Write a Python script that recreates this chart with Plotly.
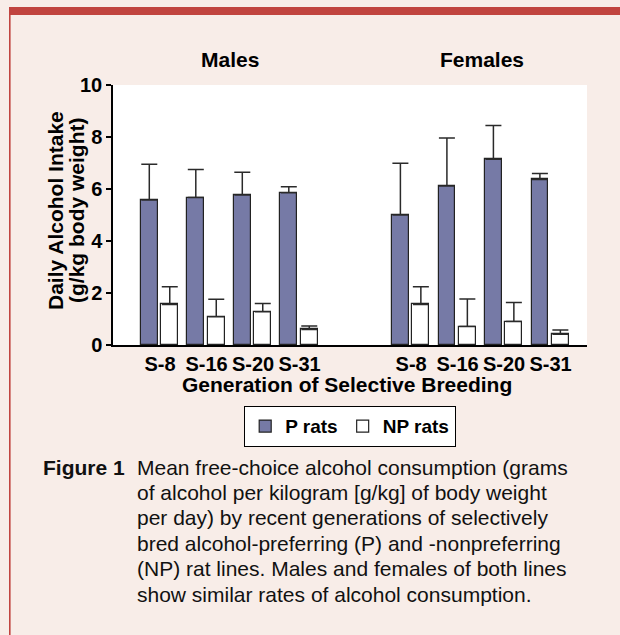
import plotly.graph_objects as go

# ---- data ----
generations = ["S-8", "S-16", "S-20", "S-31"]
male_p_mean = [5.58, 5.67, 5.77, 5.86]
male_p_err = [1.37, 1.08, 0.87, 0.23]
male_np_mean = [1.56, 1.09, 1.28, 0.60]
male_np_err = [0.68, 0.67, 0.32, 0.13]
female_p_mean = [5.00, 6.12, 7.14, 6.37]
female_p_err = [1.99, 1.84, 1.30, 0.23]
female_np_mean = [1.56, 0.71, 0.90, 0.41]
female_np_err = [0.68, 1.06, 0.73, 0.17]
y_ticks = [0, 2, 4, 6, 8, 10]

y_title_lines = ["Daily Alcohol Intake", "(g/kg body weight)"]
caption_lines = [
    "Mean free-choice alcohol consumption (grams",
    "of alcohol per kilogram [g/kg] of body weight",
    "per day) by recent generations of selectively",
    "bred alcohol-preferring (P) and -nonpreferring",
    "(NP) rat lines. Males and females of both lines",
    "show similar rates of alcohol consumption.",
]

# ---- layout helpers ----
W, H = 620, 635
L, R, T, B = 113, 587, 85, 345
FEMALE_SHIFT = 5.4
x_male = [i for i in range(len(generations))]
x_female = [i + FEMALE_SHIFT for i in range(len(generations))]
x_all = x_male + x_female
unit = 46.5
x0_px = 160
xr = [(L - x0_px) / unit, (R - x0_px) / unit]


def xp(px):
    return (px - L) / (R - L)


def yp(py):
    return (B - py) / (B - T)


FONT = "Liberation Sans, Arial, sans-serif"
P_COLOR = "#767AA6"
BG = "#F8EDE8"
RED = "#C1443F"
EDGE = "#222222"
ERRC = "#2a2a2a"

fig = go.Figure()

p_mean = male_p_mean + female_p_mean
p_err = male_p_err + female_p_err
np_mean = male_np_mean + female_np_mean
np_err = male_np_err + female_np_err

bar_w = 0.36
fig.add_trace(go.Bar(
    name="P rats", x=x_all, y=p_mean, width=bar_w, offset=-0.41,
    marker=dict(color=P_COLOR, line=dict(color=EDGE, width=1.2)),
    error_y=dict(type="data", array=p_err, arrayminus=[0] * len(p_err),
                 symmetric=False, color=ERRC, thickness=1.5, width=8),
))
fig.add_trace(go.Bar(
    name="NP rats", x=x_all, y=np_mean, width=bar_w, offset=0.03,
    marker=dict(color="white", line=dict(color=EDGE, width=1.2)),
    error_y=dict(type="data", array=np_err, arrayminus=[0] * len(np_err),
                 symmetric=False, color=ERRC, thickness=1.5, width=8),
))

shapes = [
    dict(type="rect", xref="paper", yref="paper",
         x0=xp(9), x1=xp(621), y0=yp(15), y1=yp(7),
         fillcolor=RED, line=dict(width=0), layer="below"),
    dict(type="line", xref="paper", yref="paper",
         x0=xp(9.8), x1=xp(9.8), y0=yp(7), y1=yp(636),
         line=dict(color=RED, width=1.6)),
]

BOLD = dict(family=FONT, size=21, color="black")
annotations = [
    dict(text="<b>Males</b>", x=xp(230), y=yp(60), xref="paper", yref="paper",
         showarrow=False, font=BOLD, xanchor="center", yanchor="middle"),
    dict(text="<b>Females</b>", x=xp(482), y=yp(60), xref="paper", yref="paper",
         showarrow=False, font=BOLD, xanchor="center", yanchor="middle"),
    dict(text="<b>Generation of Selective Breeding</b>",
         x=xp(347), y=yp(384), xref="paper", yref="paper",
         showarrow=False, font=BOLD, xanchor="center", yanchor="middle"),
    dict(text="<b>Figure 1</b>", x=xp(41), y=yp(467), xref="paper", yref="paper",
         showarrow=False, font=dict(family=FONT, size=21, color="#111111"),
         xanchor="left", yanchor="middle"),
]
for i, line in enumerate(y_title_lines):
    annotations.append(dict(
        text="<b>" + line + "</b>", x=xp(55 + 21 * i), y=yp(211),
        xref="paper", yref="paper", textangle=-90, showarrow=False,
        font=dict(family=FONT, size=21, color="black"),
        xanchor="center", yanchor="middle"))
for i, line in enumerate(caption_lines):
    annotations.append(dict(
        text=line, x=xp(135), y=yp(467 + 25.4 * i), xref="paper", yref="paper",
        align="left", showarrow=False,
        font=dict(family=FONT, size=21, color="#111111"),
        xanchor="left", yanchor="middle"))

fig.update_layout(
    width=W, height=H,
    margin=dict(l=L, r=W - R, t=T, b=H - B, pad=0),
    paper_bgcolor=BG, plot_bgcolor="white",
    showlegend=True,
    legend=dict(orientation="h", x=xp(350), y=yp(406), xanchor="center", yanchor="top",
                bgcolor="white", bordercolor="black", borderwidth=1.2,
                font=dict(family=FONT, size=19, color="black", weight="bold"),
                itemwidth=30, tracegroupgap=0),
    shapes=shapes,
    annotations=annotations,
    bargap=0, barmode="overlay",
)

fig.update_xaxes(
    range=xr, tickvals=x_all, ticktext=generations + generations,
    showline=True, linecolor="black", linewidth=1.5, ticks="",
    showgrid=False, zeroline=False, mirror=False,
    tickfont=dict(family=FONT, size=20, color="black", weight="bold"),
)
fig.update_yaxes(
    range=[0, 10], tickvals=y_ticks, ticktext=[str(v) for v in y_ticks],
    showline=True, linecolor="black", linewidth=1.5, ticks="outside",
    ticklen=5, tickwidth=1.5, tickcolor="black",
    showgrid=False, zeroline=False,
    tickfont=dict(family=FONT, size=20, color="black", weight="bold"),
)

fig.write_html(
    "out.html",
    config={"displayModeBar": False},
    post_script="document.body.style.margin='0';document.body.style.overflow='hidden';",
)
